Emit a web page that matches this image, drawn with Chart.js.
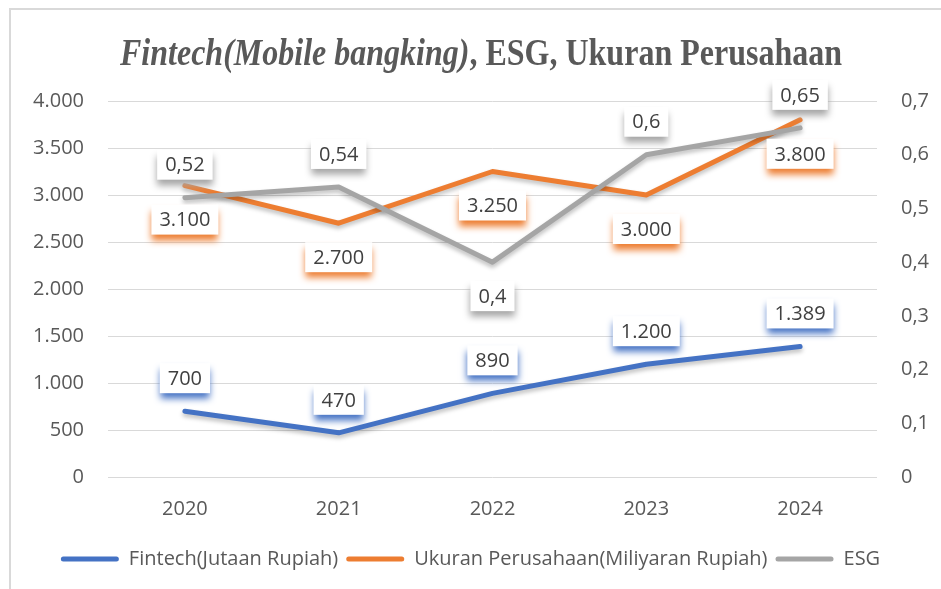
<!DOCTYPE html>
<html><head><meta charset="utf-8">
<script src="https://cdn.jsdelivr.net/npm/chart.js@4.4.1/dist/chart.umd.min.js"></script>
<style>html,body{margin:0;padding:0;background:#fff;}#wrap{width:941px;height:589px;}</style>
</head><body><div id="wrap"><canvas id="c" width="941" height="589"></canvas></div>
<script>
const categories = ['2020', '2021', '2022', '2023', '2024'];
const fintech = [700, 470, 890, 1200, 1389];
const ukuran = [3100, 2700, 3250, 3000, 3800];
const esg = [0.52, 0.54, 0.4, 0.6, 0.65];
const seriesNames = ['Fintech(Jutaan Rupiah)', 'Ukuran Perusahaan(Miliyaran Rupiah)', 'ESG'];
const titleItalic = 'Fintech(Mobile bangking)';
const titleRest = ', ESG, Ukuran Perusahaan';

const COLORS = ['#4472C4', '#ED7D31', '#A5A5A5'];
const FONT = "'Open Sans', 'Noto Sans', sans-serif";

function fmtInt(v) { return String(Math.round(v)).replace(/\B(?=(\d{3})+(?!\d))/g, '.'); }
function fmtDec(v) { return v === 0 ? '0' : String(+v.toFixed(2)).replace('.', ','); }

const labelPlace = [
  ['above','above','above','above','above'],
  ['below','below','below','below','below'],
  ['above','above','below','above','above']
];

const framePlugin = {
  id: 'frame',
  beforeDraw(chart) {
    const ctx = chart.ctx;
    ctx.save();
    ctx.fillStyle = '#fff';
    ctx.fillRect(0, 0, chart.width, chart.height);
    ctx.strokeStyle = '#d9d9d9';
    ctx.lineWidth = 2;
    ctx.strokeRect(10, 9, 1000, 700);
    ctx.restore();
  },
  afterDraw(chart) {
    const ctx = chart.ctx;
    ctx.save();
    ctx.fillStyle = '#595959';
    ctx.textBaseline = 'alphabetic';
    const size = 38;
    const f1 = `italic bold ${size}px 'Liberation Serif', 'Times New Roman', serif`;
    const f2 = `bold ${size}px 'Liberation Serif', 'Times New Roman', serif`;
    ctx.font = f1; const w1 = ctx.measureText(titleItalic).width;
    ctx.font = f2; const w2 = ctx.measureText(titleRest).width;
    const targetW = 722;
    const sx = targetW / (w1 + w2);
    const x0 = 120, base = 65;
    ctx.translate(x0, base);
    ctx.scale(sx, 1);
    ctx.font = f1; ctx.fillText(titleItalic, 0, 0);
    ctx.font = f2; ctx.fillText(titleRest, w1, 0);
    ctx.restore();
  }
};

const shadowPlugin = {
  id: 'lineShadow',
  beforeDatasetDraw(chart) {
    const ctx = chart.ctx;
    ctx.save();
    ctx.shadowColor = 'rgba(0,0,0,0.25)';
    ctx.shadowBlur = 4;
    ctx.shadowOffsetY = 3;
  },
  afterDatasetDraw(chart) { chart.ctx.restore(); }
};

const labelPlugin = {
  id: 'boxLabels',
  afterDatasetsDraw(chart) {
    const ctx = chart.ctx;
    ctx.save();
    ctx.font = `20px ${FONT}`;
    ctx.textAlign = 'center';
    ctx.textBaseline = 'middle';
    [0, 1, 2].forEach(i => {
      const meta = chart.getDatasetMeta(i);
      const data = chart.data.datasets[i].data;
      meta.data.forEach((pt, j) => {
        const v = data[j];
        const txt = i === 2 ? fmtDec(v) : fmtInt(v);
        const below = labelPlace[i][j] === 'below';
        const cy = pt.y + (below ? 34 : -33);
        const w = ctx.measureText(txt).width + 16;
        const h = 30;
        ctx.save();
        ctx.shadowColor = COLORS[i];
        ctx.shadowBlur = 7;
        ctx.shadowOffsetY = 6;
        ctx.fillStyle = '#fff';
        ctx.fillRect(pt.x - w / 2, cy - h / 2, w, h);
        ctx.restore();
        ctx.fillStyle = '#404040';
        ctx.fillText(txt, pt.x, cy + 1);
      });
    });
    ctx.restore();
  }
};

const ds = (label, data, i, axis, order) => ({
  label, data, yAxisID: axis, order,
  borderColor: COLORS[i], backgroundColor: COLORS[i],
  borderWidth: 5, pointRadius: 0, pointHoverRadius: 0,
  tension: 0, borderCapStyle: 'round', borderJoinStyle: 'round', clip: false
});

new Chart(document.getElementById('c'), {
  type: 'line',
  data: {
    labels: categories,
    datasets: [
      ds(seriesNames[0], fintech, 0, 'y', 3),
      ds(seriesNames[1], ukuran, 1, 'y', 2),
      ds(seriesNames[2], esg, 2, 'y1', 1)
    ]
  },
  options: {
    responsive: false,
    animation: false,
    events: [],
    layout: { padding: { top: 101, left: 0, right: 0, bottom: 10 } },
    plugins: {
      title: { display: false },
      tooltip: { enabled: false },
      legend: {
        position: 'bottom',
        labels: {
          boxWidth: 58, boxHeight: 5, useBorderRadius: true, borderRadius: 2.5,
          color: '#595959', font: { family: FONT, size: 20 }, padding: 8,
          sort: (a, b) => a.datasetIndex - b.datasetIndex,
          generateLabels(chart) {
            return Chart.defaults.plugins.legend.labels.generateLabels(chart).map(l => ({
              ...l, lineWidth: 0, fillStyle: COLORS[l.datasetIndex], strokeStyle: COLORS[l.datasetIndex]
            }));
          }
        }
      }
    },
    scales: {
      x: {
        offset: true,
        grid: { display: false, drawTicks: false },
        border: { display: false },
        ticks: { color: '#595959', font: { family: FONT, size: 20 }, padding: 20 }
      },
      y: {
        position: 'left', min: 0, max: 4000,
        afterFit(s) { s.width = 108; },
        grid: { color: '#d9d9d9', lineWidth: 1, drawTicks: false },
        border: { display: false },
        ticks: { stepSize: 500, color: '#595959', font: { family: FONT, size: 20 }, padding: 24,
          callback: v => fmtInt(v) }
      },
      y1: {
        position: 'right', min: 0, max: 0.7,
        afterFit(s) { s.width = 64; },
        grid: { display: false, drawTicks: false },
        border: { display: false },
        ticks: { stepSize: 0.1, color: '#595959', font: { family: FONT, size: 20 }, padding: 24,
          callback: v => fmtDec(Math.round(v * 10) / 10) }
      }
    }
  },
  plugins: [framePlugin, shadowPlugin, labelPlugin]
});
</script>
</body></html>
